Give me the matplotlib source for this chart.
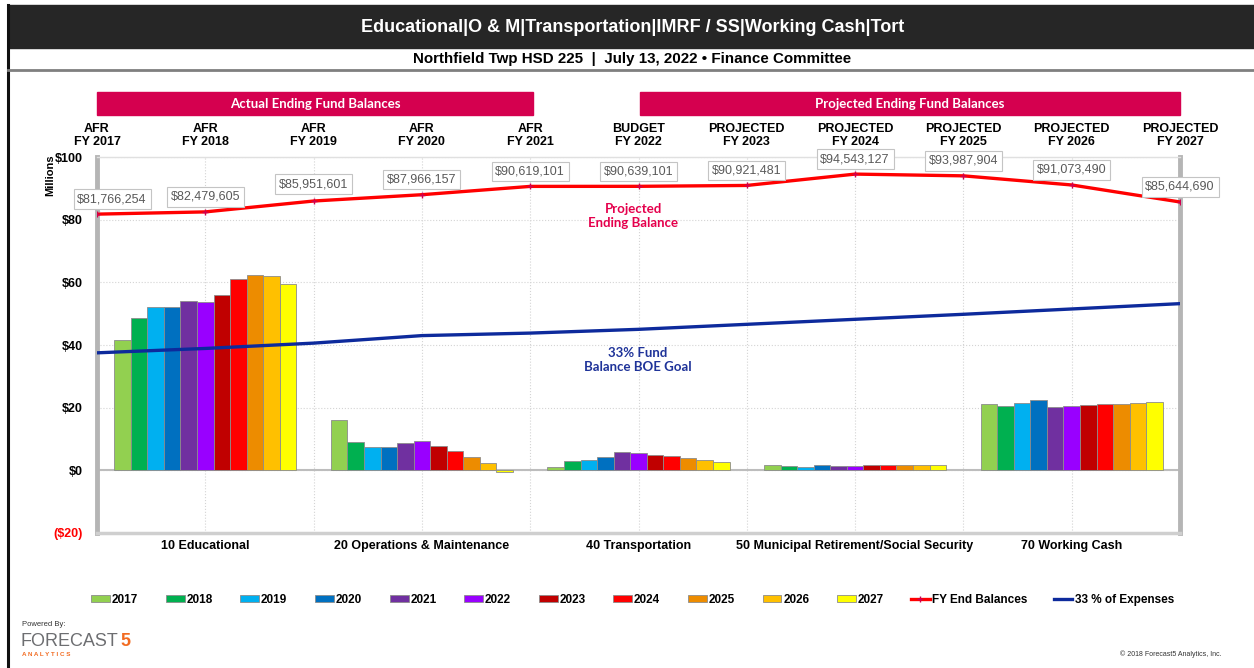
import matplotlib
matplotlib.use("Agg")
import matplotlib.pyplot as plt
import matplotlib.transforms as mtransforms
from matplotlib.patches import Rectangle, Patch
from matplotlib.lines import Line2D
import numpy as np

plt.rcParams['font.family'] = ['Liberation Sans', 'DejaVu Sans']

# ---- data (millions unless noted) ----
funds = ["10 Educational", "20 Operations & Maintenance", "40 Transportation",
         "50 Municipal Retirement/Social Security", "70 Working Cash"]
years = ["2017", "2018", "2019", "2020", "2021", "2022",
         "2023", "2024", "2025", "2026", "2027"]
col_kind = ["AFR", "AFR", "AFR", "AFR", "AFR", "BUDGET",
            "PROJECTED", "PROJECTED", "PROJECTED", "PROJECTED", "PROJECTED"]

educational = [41.5, 48.6, 52.1, 52.1, 53.9, 53.7, 55.8, 61.0, 62.5, 62.1, 59.5]
operations = [16.1, 9.0, 7.6, 7.6, 8.8, 9.5, 7.8, 6.3, 4.2, 2.2, -0.4]
transportation = [1.1, 3.0, 3.4, 4.1, 6.0, 5.5, 4.9, 4.6, 3.9, 3.4, 2.8]
imrf = [1.8, 1.3, 1.2, 1.6, 1.4, 1.4, 1.6, 1.8, 1.8, 1.8, 1.6]
working_cash = [21.3, 20.5, 21.5, 22.5, 20.2, 20.5, 20.7, 21.1, 21.3, 21.5, 21.8]

# dollars
end_balances = [81766254, 82479605, 85951601, 87966157, 90619101, 90639101,
                90921481, 94543127, 93987904, 91073490, 85644690]
goal_33 = [37.5, 38.9, 40.6, 43.0, 43.8, 45.0, 46.6, 48.2, 49.8, 51.5, 53.2]

bar_colors = ["#92D050", "#00B050", "#00B0F0", "#0070C0", "#7030A0", "#9900FF",
              "#C00000", "#FF0000", "#ED8C00", "#FFC000", "#FFFF00"]

W, H = 1254, 668
fig = plt.figure(figsize=(W / 100, H / 100), dpi=100)
fig.patch.set_facecolor("white")


def fx(px):
    return px / W


def fy(py):
    return 1 - py / H


# ---- header ----
fig.patches.append(Rectangle((fx(8), fy(48)), fx(W - 8), 43 / H,
                             transform=fig.transFigure, color="#262626", zorder=0))
fig.lines.append(Line2D([fx(8), fx(8)], [fy(5), 0], transform=fig.transFigure,
                        color="#111111", lw=2.2))
fig.lines.append(Line2D([fx(8), 1], [fy(70), fy(70)], transform=fig.transFigure,
                        color="#7f7f7f", lw=2))
fig.text(fx(633), fy(28), "Educational|O & M|Transportation|IMRF / SS|Working Cash|Tort",
         color="white", fontsize=13, fontweight="bold", ha="center", va="center")
fig.text(fx(632), fy(59), "Northfield Twp HSD 225  |  July 13, 2022 \u2022 Finance Committee",
         color="black", fontsize=10.9, fontweight="bold", ha="center", va="center")

# ---- banners ----
for x0, x1, label in [(97, 533, "Actual Ending Fund Balances"),
                      (640, 1180, "Projected Ending Fund Balances")]:
    fig.patches.append(Rectangle((fx(x0), fy(115)), fx(x1 - x0), 23 / H,
                                 transform=fig.transFigure, color="#D5004F"))
    fig.text(fx((x0 + x1) / 2), fy(103.5), label, color="white", fontsize=9.5,
             fontweight="bold", family=["Lato", "DejaVu Sans"], ha="center", va="center")

# ---- main axes ----
ax = fig.add_axes([fx(97), fy(533), fx(1180 - 97), (533 - 157) / H])
ax.set_xlim(-0.5, 4.5)
ax.set_ylim(-20, 100)

x = np.arange(len(funds))
w = 0.0764
fund_values = [educational, operations, transportation, imrf, working_cash]
for j, yr in enumerate(years):
    vals = [f[j] for f in fund_values]
    ax.bar(x + (j - 5) * w, vals, w, color=bar_colors[j], edgecolor="#8c8c8c",
           linewidth=0.6, zorder=3, label=yr)

line_x = np.arange(len(years)) * 0.5 - 0.5
bal_m = np.array(end_balances) / 1e6
ax.plot(line_x, goal_33, color="#0D2A9C", lw=2.4, zorder=4)
ax.plot(line_x, bal_m, color="#FF0000", lw=2.4, marker="+", ms=4, mew=1,
        mec="#d0004f", zorder=5)

ax.axhline(0, color="#bdbdbd", lw=1.5, zorder=2)

# grid
ax.set_xticks(x)
ax.set_xticks(line_x, minor=True)
ax.set_yticks(range(-20, 101, 20))
ax.grid(which="both", axis="x", ls=":", color="#d4d4d4", lw=0.8, zorder=0)
ax.grid(which="major", axis="y", ls=":", color="#d4d4d4", lw=0.8, zorder=0)
ax.tick_params(which="both", length=0)
ax.set_xticklabels(funds, fontsize=9, fontweight="bold")
ax.tick_params(axis="x", pad=5)
ax.tick_params(axis="y", pad=10)
ylabels = ["(${:d})".format(-v) if v < 0 else "${:d}".format(v) for v in range(-20, 101, 20)]
ax.set_yticklabels(ylabels, fontsize=9, fontweight="bold")
ax.get_yticklabels()[0].set_color("#FF0000")

ax.spines["left"].set_color("#b5b5b5")
ax.spines["left"].set_linewidth(3.5)
ax.spines["right"].set_color("#b5b5b5")
ax.spines["right"].set_linewidth(3.5)
ax.spines["bottom"].set_color("#cfcfcf")
ax.spines["bottom"].set_linewidth(2.5)
ax.spines["top"].set_color("#e0e0e0")
ax.spines["top"].set_linewidth(1)

# value labels on balance line
offsets = {0: (15, 15), 2: (0, 17)}
for i, v in enumerate(end_balances):
    dx, dy = offsets.get(i, (0, 15))
    ax.annotate("${:,.0f}".format(v), (line_x[i], bal_m[i]), xytext=(dx, dy),
                textcoords="offset pixels", ha="center", va="center", fontsize=9,
                color="#595959", zorder=7, annotation_clip=False,
                bbox=dict(boxstyle="square,pad=0.3", fc="white", ec="#c4c4c4", lw=0.8),
                arrowprops=dict(arrowstyle="-", color="#b0b0b0", lw=0.6) if dx else None)

# column headers
trans = mtransforms.blended_transform_factory(ax.transData, fig.transFigure)
for i, yr in enumerate(years):
    ax.text(line_x[i], fy(135.5), "{}\nFY {}".format(col_kind[i], yr), transform=trans,
            ha="center", va="center", fontsize=9, fontweight="bold", linespacing=1.15)

fig.text(fx(50), fy(175), "Millions", rotation=90, fontsize=8, fontweight="bold",
         ha="center", va="center")

fig.text(fx(633), fy(216), "Projected\nEnding Balance", color="#E5004C", fontsize=9.5,
         fontweight="bold", family=["Lato", "DejaVu Sans"], ha="center", va="center",
         linespacing=1.2)
fig.text(fx(638), fy(360), "33% Fund\nBalance BOE Goal", color="#1F3399", fontsize=9.5,
         fontweight="bold", family=["Lato", "DejaVu Sans"], ha="center", va="center",
         linespacing=1.2)

# ---- legends ----
bar_handles = [Patch(facecolor=c, edgecolor="#8c8c8c", lw=0.6) for c in bar_colors]
leg1 = fig.legend(bar_handles, years, ncol=11, loc="center left",
                  bbox_to_anchor=(fx(91), fy(600)), frameon=False,
                  prop=dict(size=8.5, weight="bold"), handlelength=1.6,
                  handleheight=0.55, handletextpad=0.15, columnspacing=2.35,
                  borderpad=0, borderaxespad=0)
line_handles = [Line2D([], [], color="#FF0000", lw=2.4, marker="+", ms=4, mec="#d0004f"),
                Line2D([], [], color="#0D2A9C", lw=2.4)]
leg2 = fig.legend(line_handles, ["FY End Balances", "33 % of Expenses"], ncol=2,
                  loc="center left", bbox_to_anchor=(fx(911), fy(600)), frameon=False,
                  prop=dict(size=8.5, weight="bold"), handlelength=1.6,
                  handletextpad=0.2, columnspacing=2.2, borderpad=0, borderaxespad=0)

# ---- footer ----
fig.text(fx(22), fy(625), "Powered By:", fontsize=5.5, color="#333333", va="center")
t_fc = fig.text(fx(21), fy(641), "FORECAST", fontsize=13, color="#6d6e71", va="center")
ax.annotate("5", xy=(1, 0.5), xycoords=t_fc, xytext=(1, 0), textcoords="offset points",
            fontsize=13, fontweight="bold", color="#F26B21", va="center", ha="left",
            annotation_clip=False)
fig.text(fx(22), fy(654), "A N A L Y T I C S", fontsize=4.5, fontweight="bold",
         color="#F26B21", va="center")
fig.text(fx(1222), fy(654), "\u00a9 2018 Forecast5 Analytics, Inc.", fontsize=5,
         color="#333333", ha="right", va="center")

fig.savefig("out.png", dpi=100)
